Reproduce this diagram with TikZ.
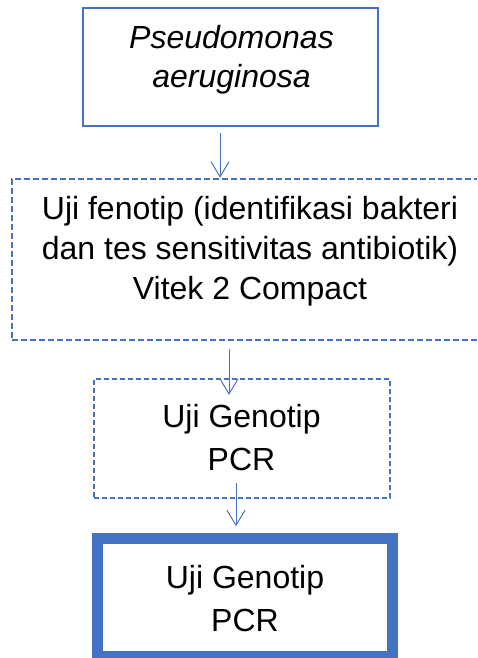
\documentclass[tikz,border=0pt]{standalone}
\usepackage{fontspec}
\setmainfont{Liberation Sans}
\usetikzlibrary{arrows.meta,calc}
\definecolor{flowblue}{HTML}{4472C4}
\begin{document}
\begin{tikzpicture}[x=1pt,y=-1pt,
  box/.style={draw=flowblue, inner sep=0pt, fill=none},
  solidbox/.style={box, line width=2.2pt},
  dashbox/.style={box, line width=2.5pt, dash pattern=on 6pt off 3pt},
  thinDash/.style={box, line width=2.2pt, dash pattern=on 5pt off 3pt},
  heavybox/.style={box, line width=11.5pt},
  % base anchor of a multi-line label sits on its last line
  label/.style={align=center, anchor=base, inner sep=0pt, text=black},
  arr/.style={draw=flowblue, line width=1pt, -{Straight Barb[length=15pt,width=18pt]}}
]
\clip (0,0) rectangle (477,658);

% boxes
\node[solidbox, minimum width=295pt, minimum height=118pt] (b1) at (230.5,67) {};
\node[dashbox, minimum width=473pt, minimum height=161pt] (b2) at (248.5,259.5) {};
\node[thinDash, minimum width=296pt, minimum height=119pt] (b3) at (242,438.5) {};
\node[heavybox, minimum width=295pt, minimum height=118.25pt] (b4) at (245,597.6) {};

% texts
\node[label, font=\fontsize{32}{39}\selectfont\itshape] (t1) at (231.5,88) {Pseudomonas\\aeruginosa};
\node[label, font=\fontsize{32}{40}\selectfont] (t2) at (250,299) {Uji fenotip (identifikasi bakteri\\dan tes sensitivitas antibiotik)\\Vitek 2 Compact};
\node[label, font=\fontsize{32}{43}\selectfont] (t3) at (241.5,470) {Uji Genotip\\PCR};
\node[label, font=\fontsize{32}{43}\selectfont] (t4) at (245,631) {Uji Genotip\\PCR};

% connectors
\coordinate (ax1) at (220,0);
\coordinate (ax2) at (229,0);
\coordinate (ax3) at (236,0);
\draw[arr] ($(b1.south -| ax1)+(0,6)$) -- (b2.north -| ax1);
\draw[arr] ($(b2.south -| ax2)+(0,8)$) -- ($(b3.north -| ax2)+(0,17)$);
\draw[arr] ($(b3.south -| ax3)+(0,-16)$) -- ($(b4.north -| ax3)+(0,-6.5)$);
\end{tikzpicture}
\end{document}
